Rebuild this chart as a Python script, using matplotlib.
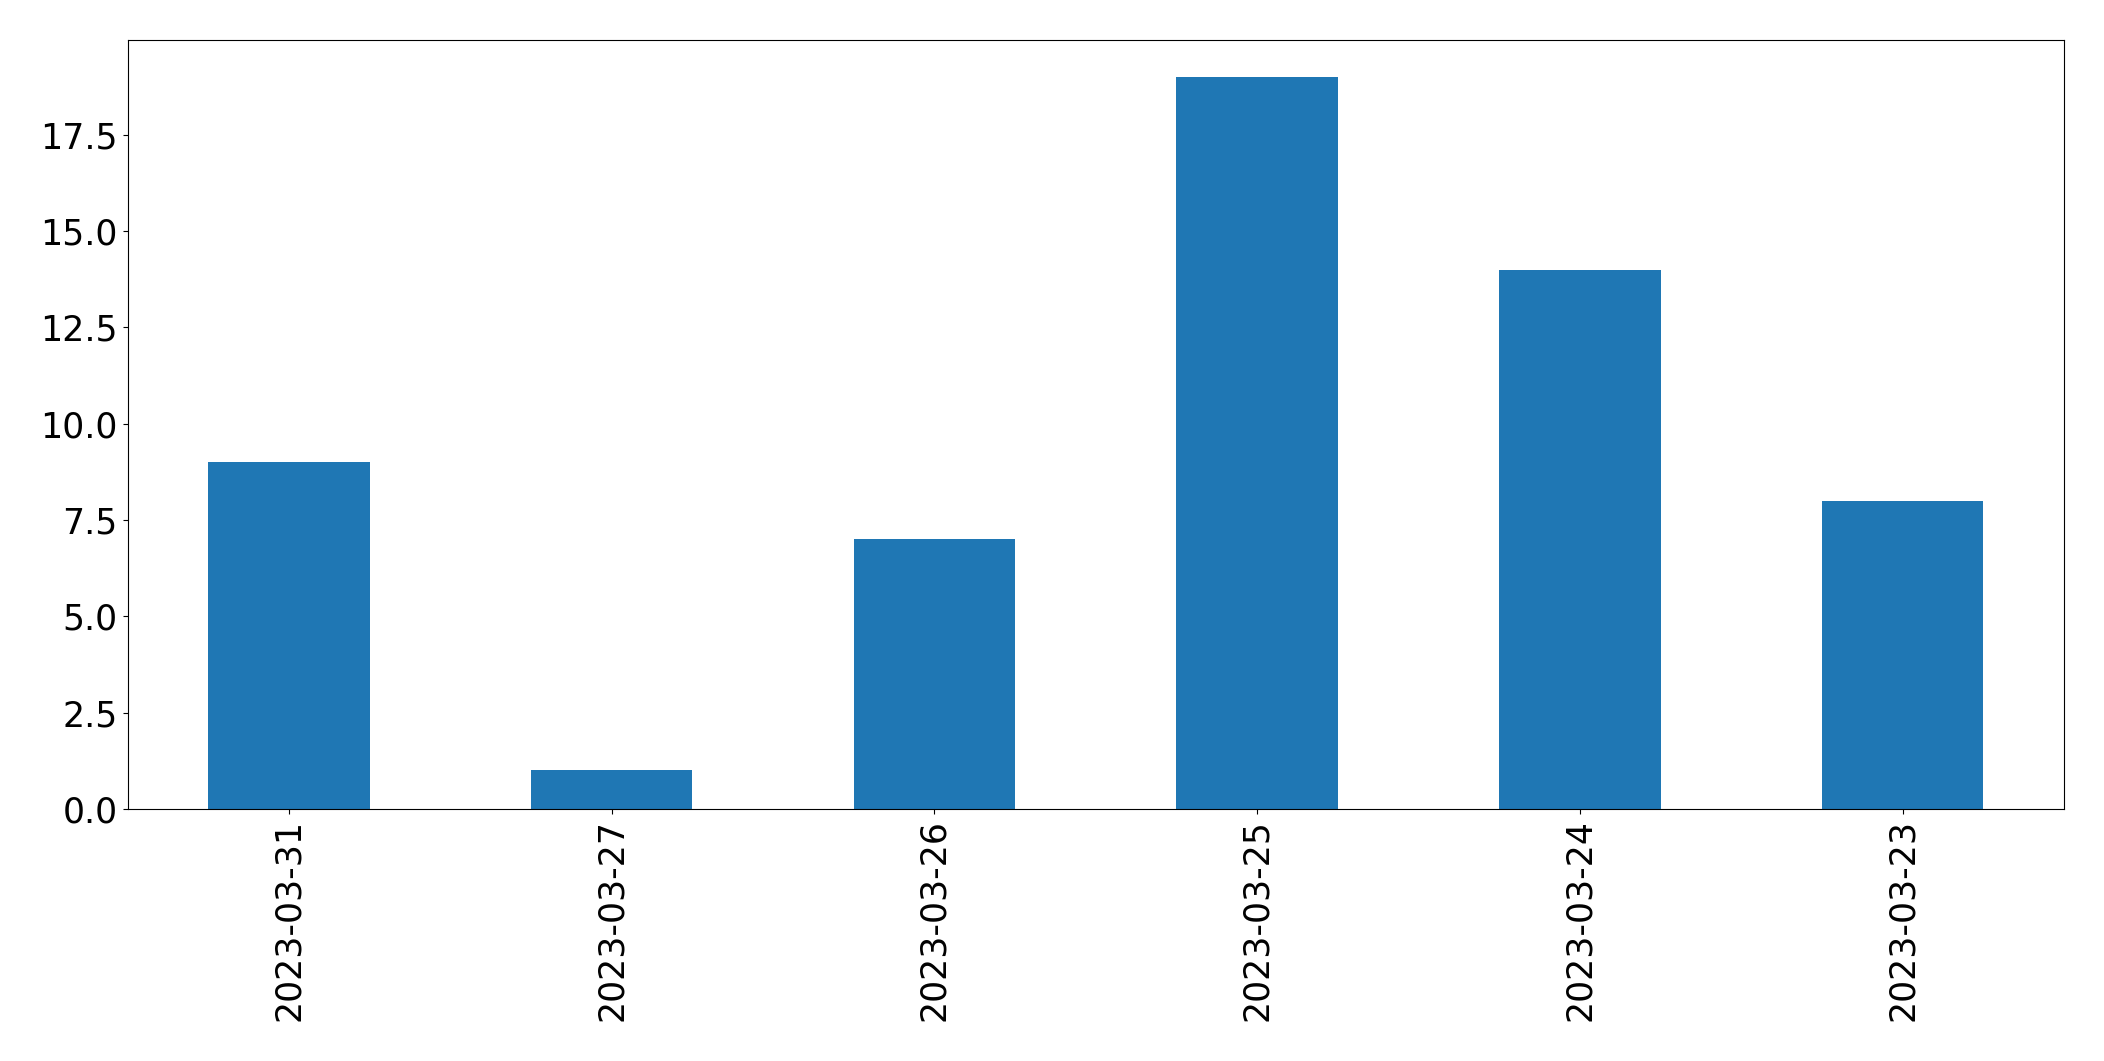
import matplotlib
matplotlib.use("Agg")
import matplotlib.pyplot as plt
import pandas as pd

dates = ["2023-03-31", "2023-03-27", "2023-03-26", "2023-03-25", "2023-03-24", "2023-03-23"]
counts = [9, 1, 7, 19, 14, 8]

s = pd.Series(counts, index=dates)

fig = plt.figure(figsize=(21.04, 10.61), dpi=100)
ax = fig.add_axes([0.0606, 0.2375, 0.9204, 0.7245])
s.plot.bar(ax=ax, color="#1f77b4")
ax.tick_params(axis="both", labelsize=25)
fig.savefig("out.png", dpi=100)
